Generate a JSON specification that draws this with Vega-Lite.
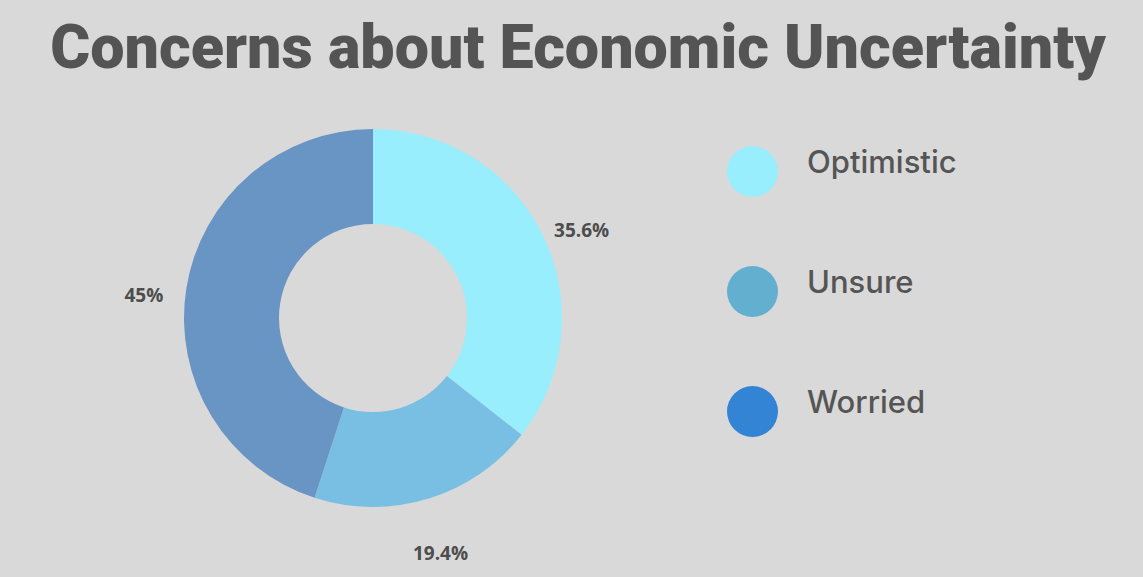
{
  "$schema": "https://vega.github.io/schema/vega-lite/v6.json",
  "autosize": "none",
  "width": 708,
  "height": 380,
  "padding": {"left": 19, "right": 416, "top": 128, "bottom": 69},
  "background": "#d9d9d9",
  "title": {
    "text": "Concerns about Economic Uncertainty",
    "font": "Roboto",
    "fontWeight": 900,
    "fontSize": 61,
    "color": "#545454",
    "anchor": "middle",
    "dx": 205,
    "baseline": "alphabetic",
    "offset": -1
  },
  "data": {
    "values": [
      {"category": "Optimistic", "share": 0.356},
      {"category": "Unsure", "share": 0.194},
      {"category": "Worried", "share": 0.45}
    ]
  },
  "config": {"view": {"stroke": null}},
  "layer": [
    {
      "mark": {"type": "arc", "outerRadius": 189, "innerRadius": 94},
      "encoding": {
        "theta": {"field": "share", "type": "quantitative", "stack": true},
        "order": {"field": "category", "sort": "ascending"},
        "color": {
          "field": "category",
          "type": "nominal",
          "scale": {"range": ["#98EEFC", "#79BFE3", "#6895C4"]},
          "legend": null
        }
      }
    },
    {
      "mark": {"type": "arc", "outerRadius": 189, "innerRadius": 94, "fillOpacity": 0, "strokeOpacity": 0},
      "encoding": {
        "theta": {"field": "share", "type": "quantitative", "stack": true},
        "order": {"field": "category", "sort": "ascending"},
        "fill": {
          "field": "category",
          "type": "nominal",
          "scale": {
            "domain": ["Optimistic", "Unsure", "Worried"],
            "range": ["#98EEFC", "#62AFCF", "#3484D6"]
          },
          "legend": {
            "title": null,
            "orient": "none",
            "legendX": 708,
            "legendY": 18,
            "symbolType": "circle",
            "symbolSize": 2601,
            "symbolStrokeWidth": 0,
            "symbolOpacity": 1,
            "labelFont": "Inter",
            "labelFontSize": 31,
            "labelFontWeight": 500,
            "labelColor": "#555555",
            "labelOffset": 29,
            "labelBaseline": "alphabetic",
            "rowPadding": 69,
            "padding": 0,
            "encode": {
              "symbols": {"update": {"fillOpacity": {"value": 1}, "opacity": {"value": 1}}},
              "labels": {"update": {"dy": {"value": 1}}}
            }
          }
        }
      }
    },
    {
      "mark": {"type": "text", "radius": 232, "dy": 14, "font": "Open Sans", "fontWeight": "bold", "fontSize": 19, "color": "#4d4d4d"},
      "encoding": {
        "theta": {"field": "share", "type": "quantitative", "stack": true},
        "order": {"field": "category", "sort": "ascending"},
        "text": {"field": "share", "type": "quantitative", "format": ".1~%"}
      }
    }
  ]
}
